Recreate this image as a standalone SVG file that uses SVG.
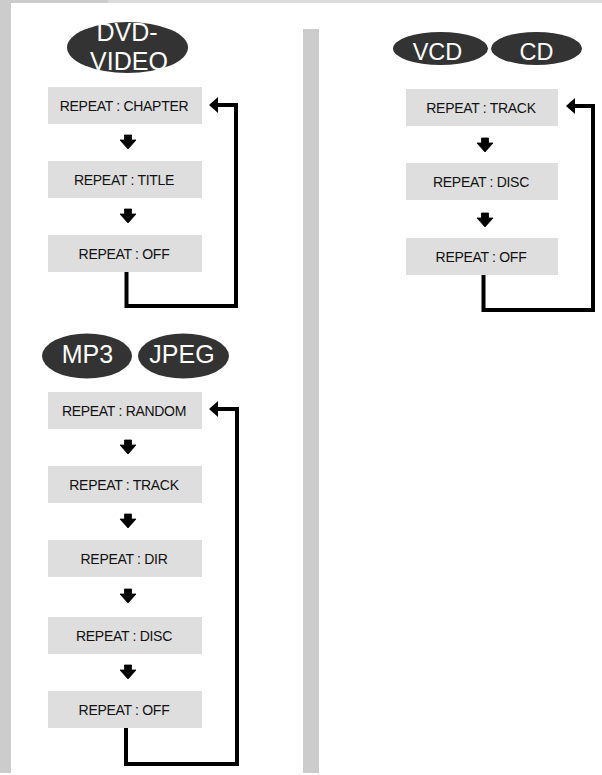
<svg xmlns="http://www.w3.org/2000/svg" width="602" height="775" viewBox="0 0 602 775">
<defs>
<style>
.bar{fill:#cccccc}
.box{fill:#dedede}
.disc{fill:#333333}
.lbl{font-family:"Liberation Sans",Arial,Helvetica,sans-serif;font-size:14px;letter-spacing:-0.3px;fill:#111111;text-anchor:middle}
.dl{font-family:"Liberation Sans",Arial,Helvetica,sans-serif;font-size:25px;fill:#ffffff;text-anchor:middle}
.loop{fill:none;stroke:#000;stroke-width:4;stroke-linejoin:miter}
.ah{fill:#000}
</style>
<path id="down" d="M-3.5,0 H3.5 V5 H8 L0,14 L-8,5 H-3.5 Z" stroke="#000" stroke-width="0.8" stroke-linejoin="round"/>
</defs>
<rect width="602" height="775" fill="#ffffff"/>
<g id="frame">
<rect class="bar" x="0" y="0" width="108" height="3"/>
<rect x="108" y="0" width="494" height="3" fill="#dcdcdc"/>
<rect class="bar" x="0" y="0" width="11" height="773"/>
<rect class="bar" x="303" y="29" width="16" height="744"/>
</g>

<g id="badge-dvd">
<ellipse class="disc" cx="127.5" cy="47.5" rx="60.5" ry="25.5"/>
<text class="dl" x="127" y="41">DVD-</text>
<text class="dl" x="129" y="70">VIDEO</text>
</g>
<g id="badge-vcd">
<ellipse class="disc" cx="440.5" cy="48.5" rx="47.5" ry="16.5"/>
<text class="dl" x="437.5" y="59.5" style="font-size:23.5px">VCD</text>
</g>
<g id="badge-cd">
<ellipse class="disc" cx="536.5" cy="48.5" rx="45.5" ry="16.5"/>
<text class="dl" x="536.5" y="59.5" style="font-size:23.5px">CD</text>
</g>
<g id="badge-mp3">
<ellipse class="disc" cx="87" cy="356" rx="45" ry="22.5"/>
<text class="dl" x="87.5" y="363">MP3</text>
</g>
<g id="badge-jpeg">
<ellipse class="disc" cx="183.5" cy="356" rx="45.5" ry="22.5"/>
<text class="dl" x="182" y="363">JPEG</text>
</g>

<g id="dvd-chapter"><rect class="box" x="48" y="87" width="154" height="37"/><text class="lbl" x="124" y="111">REPEAT : CHAPTER</text></g>
<g id="dvd-title"><rect class="box" x="48" y="161" width="154" height="37"/><text class="lbl" x="124" y="185">REPEAT : TITLE</text></g>
<g id="dvd-off"><rect class="box" x="48" y="235" width="154" height="37"/><text class="lbl" x="124" y="259">REPEAT : OFF</text></g>

<g id="cd-track"><rect class="box" x="406" y="89" width="152" height="37"/><text class="lbl" x="481" y="113">REPEAT : TRACK</text></g>
<g id="cd-disc"><rect class="box" x="406" y="163" width="152" height="37"/><text class="lbl" x="481" y="187">REPEAT : DISC</text></g>
<g id="cd-off"><rect class="box" x="406" y="238" width="152" height="37"/><text class="lbl" x="481" y="262">REPEAT : OFF</text></g>

<g id="mp3-random"><rect class="box" x="48" y="392" width="154" height="37"/><text class="lbl" x="124" y="416">REPEAT : RANDOM</text></g>
<g id="mp3-track"><rect class="box" x="48" y="466" width="154" height="37"/><text class="lbl" x="124" y="490">REPEAT : TRACK</text></g>
<g id="mp3-dir"><rect class="box" x="48" y="540" width="154" height="37"/><text class="lbl" x="124" y="564">REPEAT : DIR</text></g>
<g id="mp3-disc"><rect class="box" x="48" y="617" width="154" height="37"/><text class="lbl" x="124" y="641">REPEAT : DISC</text></g>
<g id="mp3-off"><rect class="box" x="48" y="691" width="154" height="37"/><text class="lbl" x="124" y="715">REPEAT : OFF</text></g>

<g id="connectors">
<use href="#down" x="128" y="135"/>
<use href="#down" x="128" y="209"/>
<use href="#down" x="485" y="138"/>
<use href="#down" x="485" y="213"/>
<use href="#down" x="128" y="440"/>
<use href="#down" x="128" y="514"/>
<use href="#down" x="128" y="589"/>
<use href="#down" x="128" y="665"/>

<path class="loop" d="M126.5,272 V306 H236 V105 H218"/>
<path class="ah" d="M209,105 L218,97 V113 Z"/>

<path class="loop" d="M483.5,275 V310 H593 V106 H575"/>
<path class="ah" d="M566,106 L575,98 V114 Z"/>

<path class="loop" d="M126,728 V764 H237 V409 H218"/>
<path class="ah" d="M209,409 L218,401 V417 Z"/>
</g>
</svg>
